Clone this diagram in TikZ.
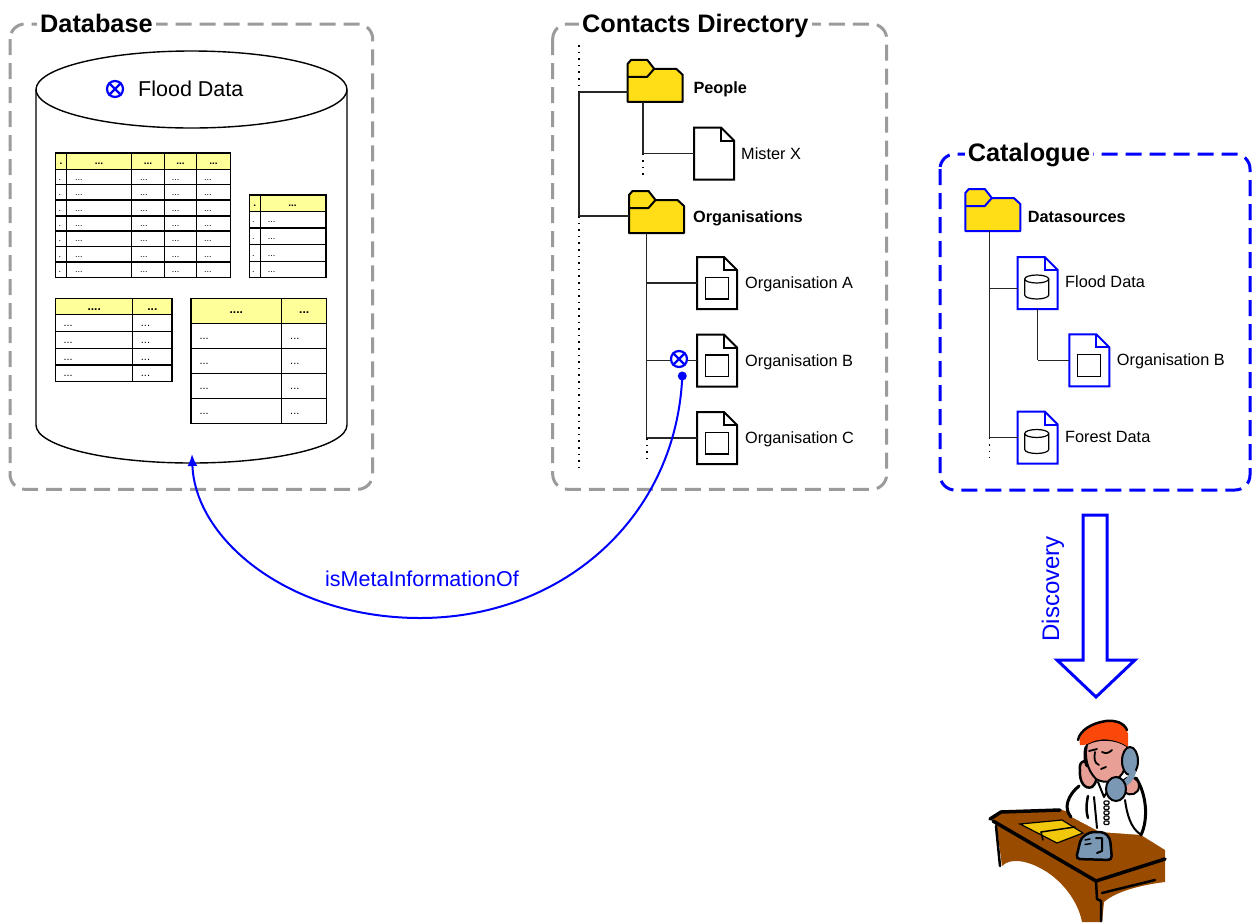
\documentclass[tikz,border=0pt]{standalone}
\usepackage{fontspec}
\setmainfont{Liberation Sans}
\usetikzlibrary{arrows.meta}

\definecolor{dashgray}{RGB}{155,155,155}
\definecolor{hdryellow}{RGB}{255,255,153}
\definecolor{folderyellow}{RGB}{255,222,23}
\definecolor{deskbrown}{RGB}{153,76,0}
\definecolor{hairred}{RGB}{250,72,10}
\definecolor{skin}{RGB}{232,160,150}
\definecolor{phoneblue}{RGB}{122,152,180}
\definecolor{paperyellow}{RGB}{242,200,12}

\begin{document}
\begin{tikzpicture}[x=1pt,y=-1pt,
  frame/.style={draw=dashgray, line width=3pt, dash pattern=on 16pt off 8pt, rounded corners=15pt},
  bframe/.style={frame, draw=blue},
  title/.style={font=\fontsize{25.3}{28}\selectfont\bfseries, fill=white, inner xsep=3pt, inner ysep=1pt, anchor=base west},
  lbl/.style={font=\fontsize{16.3}{18}\selectfont, inner sep=0pt, anchor=base west},
  blbl/.style={lbl, font=\fontsize{16.3}{18}\selectfont\bfseries},
  tbl/.style={line width=1.2pt},
  tdot/.style={font=\fontsize{9}{10}\selectfont, inner sep=0pt, anchor=base west},
  thdr/.style={font=\fontsize{10}{11}\selectfont\bfseries, inner sep=0pt, anchor=base},
  tdotl/.style={font=\fontsize{11}{12}\selectfont, inner sep=0pt, anchor=base west},
  thdrl/.style={font=\fontsize{12}{13}\selectfont\bfseries, inner sep=0pt, anchor=base},
  tree/.style={line width=1.3pt, draw=black!85},
  treedot/.style={line width=1.6pt, dash pattern=on 1.6pt off 5pt},
  otimes/.style={circle, draw=blue, fill=white, line width=2.2pt, minimum size=16pt, inner sep=0pt},
  ink/.style={draw=black, line cap=round, line join=round},
  pics/page/.style={code={
    \node[inner sep=0pt, minimum width=40pt, minimum height=52pt] (-b) {};
    \draw[line width=2pt, draw=#1, fill=white, line join=miter]
      (-20,-26) -- (7,-26) -- (20,-13) -- (20,26) -- (-20,26) -- cycle;
    \draw[line width=2pt, draw=#1] (7,-26) -- (7,-13) -- (20,-13);
  }},
  pics/page/.default=black,
  pics/boxicon/.style={code={
    \draw[line width=1.3pt, fill=white] (-11.5,-5.5) rectangle (11.5,16);
  }},
  pics/cylicon/.style={code={
    \draw[line width=1.2pt, fill=white] (-13,-4) -- (-13,12)
      .. controls (-13,14.2) and (-7.6,16) .. (-1,16)
      .. controls (5.6,16) and (11,14.2) .. (11,12) -- (11,-4);
    \draw[line width=1.2pt, fill=white] (-1,-4) ellipse [x radius=12pt, y radius=4pt];
  }},
  pics/folder/.style={code={
    \node[inner sep=0pt, minimum width=55pt, minimum height=42pt] (-b) {};
    \draw[line width=2pt, draw=#1, fill=folderyellow, line join=round]
      (-27.5,21) -- (-27.5,-17) -- (-24,-21) -- (-8,-21) -- (-1,-12)
      -- (21,-12) -- (27.5,-6) -- (27.5,21) -- cycle;
    \draw[line width=2pt, draw=#1, line join=round] (-27.5,-4) -- (-8,-4) -- (-1,-12);
  }},
  pics/folder/.default=black
]
\useasboundingbox (0,0) rectangle (1254,922);

% ---------------- frames ----------------
\draw[frame] (10,24) rectangle (372.7,489.3);
\draw[frame] (552.7,24) rectangle (886.7,489.3);
\draw[bframe] (940,154) rectangle (1250,490);
\node[title] (tdb) at (37,32.3) {Database};
\node[title] (tcd) at (579,32.3) {Contacts Directory};
\node[title] (tcat) at (964.7,161.5) {Catalogue};

% ---------------- database cylinder ----------------
\draw[line width=1.4pt, fill=white] (36,89.5) -- (36,425)
  .. controls (36,446) and (105.6,463) .. (191.5,463)
  .. controls (277.4,463) and (347,446) .. (347,425) -- (347,89.5);
\draw[line width=1.4pt, fill=white] (191.5,89.5) ellipse [x radius=155.5pt, y radius=38.5pt];
\node[otimes] (cylx) at (115,89) {};
\draw[blue, line width=2.2pt] (cylx.45) -- (cylx.225) (cylx.135) -- (cylx.315);
\node[lbl, font=\fontsize{21.5}{24}\selectfont] (cylname) at (138,96) {Flood Data};

% table 1
\fill[hdryellow] (55.7,153) rectangle (230.3,169.3);
\foreach \y in {169.3,184.7,200,216,231,246.7,262} \draw[tbl] (55.7,\y) -- (230.3,\y);
\foreach \x in {66.3,131.7,164.3,196.7} \draw[tbl] (\x,153) -- (\x,277.7);
\draw[tbl] (55.7,153) rectangle (230.3,277.7);
\node[thdr] (ta-h0) at (61,164) {.};
\foreach \x [count=\c] in {99,148,180.5,213.5} \node[thdr] (ta-h\c) at (\x,164) {...};
\foreach \y [count=\r] in {177,192.35,208,223.5,238.85,254.35,269.85} {
  \node[tdot] (ta-\r-0) at (58.5,\y+3) {.};
  \foreach \x [count=\c] in {75,140,171.7,204} \node[tdot] (ta-\r-\c) at (\x,\y+3) {...};
}
% table 2
\fill[hdryellow] (249.3,195) rectangle (326,211.3);
\foreach \y in {211.3,228,244.7,261.3} \draw[tbl] (249.3,\y) -- (326,\y);
\draw[tbl] (260.3,195) -- (260.3,277.7);
\draw[tbl] (249.3,195) rectangle (326,277.7);
\node[thdr] (tb-h0) at (254.8,206) {.};
\node[thdr] (tb-h1) at (292.5,206) {...};
\foreach \y [count=\r] in {219.65,236.35,253,269.5} {
  \node[tdot] (tb-\r-0) at (252,\y+3) {.};
  \node[tdot] (tb-\r-1) at (267.7,\y+3) {...};
}
% table 3
\fill[hdryellow] (55.7,298.3) rectangle (172,314.7);
\foreach \y in {314.7,331.7,348.3,365} \draw[tbl] (55.7,\y) -- (172,\y);
\draw[tbl] (132.7,298.3) -- (132.7,381.3);
\draw[tbl] (55.7,298.3) rectangle (172,381.3);
\node[thdrl] (tc-h0) at (94.2,310) {....};
\node[thdrl] (tc-h1) at (152.4,310) {...};
\foreach \y [count=\r] in {323.2,340,356.65,373.15} {
  \node[tdotl] (tc-\r-0) at (63.3,\y+3.5) {...};
  \node[tdotl] (tc-\r-1) at (140.7,\y+3.5) {...};
}
% table 4
\fill[hdryellow] (191,298.3) rectangle (326.7,323.3);
\foreach \y in {323.3,348.3,373.3,398.3} \draw[tbl] (191,\y) -- (326.7,\y);
\draw[tbl] (281.7,298.3) -- (281.7,423.3);
\draw[tbl] (191,298.3) rectangle (326.7,423.3);
\node[thdrl] (td-h0) at (236.3,313.3) {....};
\node[thdrl] (td-h1) at (304.2,313.3) {...};
\foreach \y [count=\r] in {335.8,360.8,385.8,410.8} {
  \node[tdotl] (td-\r-0) at (199.3,\y+3.5) {...};
  \node[tdotl] (td-\r-1) at (290,\y+3.5) {...};
}

% ---------------- contacts directory ----------------
\coordinate (croottop) at (579,45);
\coordinate (croot) at (579,92);
\coordinate (corg) at (579,216);
\coordinate (crootend) at (579,473);
\coordinate (pj) at (643,153.5);
\coordinate (pjend) at (643,176);
\coordinate (oa) at (646.7,283);
\coordinate (ob) at (646.7,360.5);
\coordinate (oc) at (646.7,438);
\coordinate (ocend) at (646.7,458);

\pic (people) at (655.2,80.8) {folder};
\pic (orgs) at (656.5,212) {folder};

\draw[treedot] (croottop) -- (croot);
\draw[tree] (croot) -- (corg);
\draw[treedot] (corg) -- (crootend);
\draw[tree] (croot) -- (croot -| people-b.west);
\draw[tree] (corg) -- (corg -| orgs-b.west);
\draw[tree] (pj |- people-b.south) -- (pj);
\draw[treedot] (pj) -- (pjend);
\draw[tree] (oa |- orgs-b.south) -- (oc);
\draw[treedot] (oc) -- (ocend);

\pic (misterx) at (714,153.5) {page};
\pic (orgA) at (717,283) {page};
\pic at (717,283) {boxicon};
\pic (orgB) at (717,360.5) {page};
\pic at (717,360.5) {boxicon};
\pic (orgC) at (717,438) {page};
\pic at (717,438) {boxicon};

\draw[tree] (pj) -- (misterx-b.west);
\draw[tree] (oa) -- (orgA-b.west);
\draw[tree] (ob) -- (orgB-b.west);
\draw[tree] (oc) -- (orgC-b.west);

\node[blbl] (lpeople) at (693.3,93.3) {People};
\node[blbl] (lorgs) at (693,222.7) {Organisations};
\node[lbl] (lmx) at (741,159.3) {Mister X};
\node[lbl] (lorgA) at (745,288.7) {Organisation A};
\node[lbl] (lorgB) at (745,366) {Organisation B};
\node[lbl] (lorgC) at (745,443.3) {Organisation C};

\node[otimes] (orgx) at (679,359) {};
\draw[blue, line width=2.2pt] (orgx.45) -- (orgx.225) (orgx.135) -- (orgx.315);

% ---------------- relation to the database ----------------
\coordinate (arclow) at (420,618);
\coordinate (cylbot) at (192,454);
\node[circle, fill=blue, inner sep=0pt, minimum size=9pt] (srcdot) at (682.3,376) {};
\draw[blue, line width=2pt, -{Latex[length=12pt,width=10pt]}]
  (srcdot.center) .. controls (676,520) and (560,618) .. (arclow)
  .. controls (290,618) and (195,540) .. (cylbot);
\node[lbl, font=\fontsize{21.5}{24}\selectfont, text=blue] (rel) at (325,586.7) {isMetaInformationOf};

% ---------------- catalogue ----------------
\coordinate (ka) at (989.3,288.3);
\coordinate (kb) at (989.3,437.3);
\coordinate (kbend) at (989.3,458);
\coordinate (kc) at (1037.5,360.3);

\pic[blue] (ds) at (992.8,210) {folder=blue};
\draw[tree] (ka |- ds-b.south) -- (kb);
\draw[treedot] (kb) -- (kbend);

\pic (cflood) at (1037.7,283) {page=blue};
\pic at (1037.7,283) {cylicon};
\pic (cforest) at (1037.7,437.5) {page=blue};
\pic at (1037.7,437.5) {cylicon};
\draw[tree] (cflood-b.south -| kc) -- (kc);
\pic (corgb) at (1089.3,360.3) {page=blue};
\pic at (1089.3,360.3) {boxicon};
\draw[tree] (kc) -- (corgb-b.west);
\draw[tree] (ka) -- (ka -| cflood-b.west);
\draw[tree] (kb) -- (kb -| cforest-b.west);

\node[blbl] (lds) at (1027.7,222.3) {Datasources};
\node[lbl] (lflood) at (1065,287.3) {Flood Data};
\node[lbl] (lcorgb) at (1116.7,365.7) {Organisation B};
\node[lbl] (lforest) at (1065,442.3) {Forest Data};

% ---------------- discovery arrow ----------------
\draw[blue, line width=3pt, fill=white, line join=miter]
  (1083,515) -- (1107,515) -- (1107,660) -- (1135,660) -- (1096,697)
  -- (1057,660) -- (1083,660) -- cycle;
\node[lbl, font=\fontsize{24}{26}\selectfont, text=blue, rotate=90] (disc) at (1059,641.7) {Discovery};

% ---------------- person at the desk ----------------
% desk
\fill[deskbrown] (991,817) -- (1000,812) -- (1062,810) -- (1136,832) -- (1165,850)
  -- (1165,882) .. controls (1140,885) and (1115,892) .. (1104,902) -- (1102,922)
  -- (1082,922) .. controls (1078,900) and (1060,878) .. (1040,868)
  .. controls (1025,860) and (1010,858) .. (1002,866) -- (997,828) -- cycle;
\draw[ink, line width=3.5pt] (990,819) -- (1001,812) -- (1060,810);
\draw[ink, line width=3.5pt] (993,821) -- (1096,881) -- (1165,859);
\draw[ink, line width=2.5pt] (1102,893) -- (1155,880);
\draw[ink, line width=2.5pt] (1096,881) -- (1097,899) -- (1101,901) -- (1101,921);
\draw[ink, line width=2.5pt] (996,826) -- (1000,866);
% shirt
\fill[white] (1068,815) .. controls (1064,803) and (1070,790) .. (1080,784) -- (1097,781)
  -- (1118,780) -- (1135,777) .. controls (1146,792) and (1149,818) .. (1142,835)
  -- (1100,832) -- cycle;
\draw[ink, line width=3pt] (1079,786) .. controls (1068,795) and (1063,808) .. (1071,817);
\draw[ink, line width=2.5pt] (1088,796) .. controls (1086,805) and (1086,812) .. (1088,818);
\draw[ink, line width=2pt] (1094,797) -- (1097,828);
\draw[ink, line width=3pt] (1136,778) .. controls (1146,793) and (1149,818) .. (1141,835);
\draw[ink, line width=2pt] (1125,800) .. controls (1127,815) and (1131,828) .. (1140,834);
\draw[ink, line width=2pt] (1098,782) -- (1104,797) -- (1112,783);
\foreach \b in {0,...,4}
  \draw[ink, line width=1.2pt, rounded corners=1pt] (1104,801+5*\b) rectangle (1109,804.5+5*\b);
% hand at the chin
\filldraw[fill=skin, draw=black, line width=2.5pt] (1080,770)
  .. controls (1078,760) and (1088,758) .. (1093,766)
  .. controls (1098,772) and (1098,782) .. (1092,787)
  .. controls (1085,790) and (1079,782) .. (1080,770) -- cycle;
% face
\filldraw[fill=skin, draw=black, line width=2pt] (1087,744)
  .. controls (1084,756) and (1087,770) .. (1096,779)
  .. controls (1104,784) and (1116,782) .. (1122,774)
  .. controls (1127,766) and (1128,754) .. (1127,746)
  .. controls (1115,738) and (1098,738) .. (1087,744) -- cycle;
\draw[ink, line width=1.8pt] (1089,751) -- (1097,749);
\draw[ink, line width=1.8pt] (1102,752) .. controls (1106,754) and (1109,753) .. (1112,750);
\draw[ink, line width=1.8pt] (1095,752) .. controls (1094,758) and (1094,763) .. (1099,765);
\draw[ink, line width=1.8pt] (1101,769) -- (1106,767);
\draw[ink, line width=3pt] (1086,747) .. controls (1084,755) and (1085,762) .. (1087,766);
% hair
\fill[hairred] (1080,745) .. controls (1077,735) and (1088,725) .. (1104,721)
  .. controls (1116,719) and (1126,724) .. (1128,734) -- (1128,747)
  .. controls (1120,741) and (1106,737) .. (1094,741)
  .. controls (1089,743) and (1085,746) .. (1080,745) -- cycle;
\draw[ink, line width=2.5pt] (1078,740) .. controls (1080,730) and (1092,723) .. (1106,721)
  .. controls (1116,720) and (1124,723) .. (1127,730);
% telephone handset and the hand holding it
\filldraw[fill=skin, draw=black, line width=2pt] (1124,780)
  .. controls (1130,774) and (1139,778) .. (1139,786)
  .. controls (1139,794) and (1130,797) .. (1125,792) -- cycle;
\filldraw[fill=phoneblue, draw=black, line width=2pt] (1130,761) ellipse [x radius=8pt, y radius=14pt];
\draw[phoneblue, line width=6pt, line cap=round] (1133,772) .. controls (1132,778) and (1126,784) .. (1120,786);
\filldraw[fill=phoneblue, draw=black, line width=2pt] (1116,789) ellipse [x radius=10pt, y radius=12pt];
% papers on the desk
\filldraw[fill=paperyellow, draw=black, line width=1.2pt] (1020,824) -- (1062,820) -- (1083,833) -- (1057,843) -- cycle;
\draw[ink, line width=1.5pt] (1041,832) -- (1075,827);
\draw[ink, line width=1.5pt] (1041,832) -- (1043,840);
% telephone base
\filldraw[fill=phoneblue, draw=black, line width=2.5pt, rounded corners=4pt]
  (1076,859) -- (1081,838) -- (1090,832) -- (1104,832) -- (1110,838) -- (1112,860) -- cycle;
\draw[ink, line width=2pt] (1096,838) -- (1102,838) -- (1102,851) -- (1097,853);
\draw[ink, line width=1.5pt] (1085,840) -- (1090,839) (1085,844.5) -- (1091,843.5);
\end{tikzpicture}
\end{document}
